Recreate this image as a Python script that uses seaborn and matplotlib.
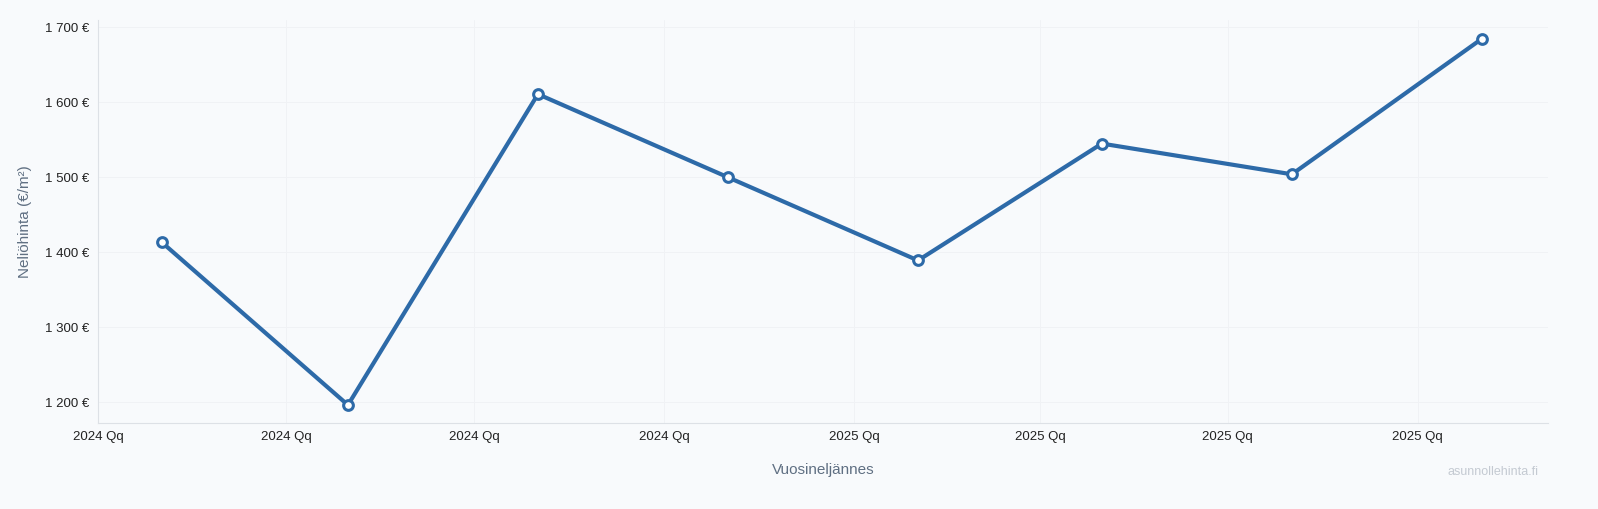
import matplotlib
matplotlib.use("Agg")
import matplotlib.pyplot as plt
import seaborn as sns
import pandas as pd

dates = ["2024-02-01", "2024-05-01", "2024-08-01", "2024-11-01",
         "2025-02-01", "2025-05-01", "2025-08-01", "2025-11-01"]
prices = [1413, 1196, 1611, 1500, 1389, 1545, 1504, 1685]
tick_dates = ["2024-01-01", "2024-04-01", "2024-07-01", "2024-10-01",
              "2025-01-01", "2025-04-01", "2025-07-01", "2025-10-01"]
tick_labels = ["2024 Qq"] * 4 + ["2025 Qq"] * 4
y_ticks = [1200, 1300, 1400, 1500, 1600, 1700]

df = pd.DataFrame({"date": pd.to_datetime(dates), "price": prices})

sns.set_style("white")
plt.rcParams["font.family"] = ["Liberation Sans", "DejaVu Sans"]
bg = "#f8fafc"
fig = plt.figure(figsize=(15.98, 5.09), dpi=100, facecolor=bg)
ax = fig.add_axes([98/1598, 1-423/509, 1450/1598, 403/509], facecolor=bg)
sns.lineplot(data=df, x="date", y="price", ax=ax, color="#2d6aa8", linewidth=3,
             marker="o", markersize=7, markerfacecolor="white",
             markeredgecolor="#2d6aa8", markeredgewidth=2.2)
ax.set_xlim(pd.Timestamp("2024-01-01"), pd.Timestamp("2025-12-03"))
ax.set_ylim(1172, 1710)
ax.set_xticks(pd.to_datetime(tick_dates))
ax.set_xticklabels(tick_labels)
ax.set_yticks(y_ticks)
ax.set_yticklabels([f"{v//1000} {v%1000:03d} €" for v in y_ticks])
ax.tick_params(labelsize=9.5, colors="#222222", length=0, pad=6)
ax.grid(True, color="#f0f2f5", linewidth=0.7)
for s in ["top", "right"]:
    ax.spines[s].set_visible(False)
for s in ["left", "bottom"]:
    ax.spines[s].set_color("#dde1e6")
ax.set_xlabel("Vuosineljännes", color="#5f6f82", fontsize=11, labelpad=14)
ax.set_ylabel("Neliöhinta (€/m²)", color="#5f6f82", fontsize=11, labelpad=10)
fig.text(1538/1598, 1-472/509, "asunnollehinta.fi", ha="right", va="center",
         color="#c4cad2", fontsize=9)
fig.savefig("out.png", dpi=100, facecolor=bg)
